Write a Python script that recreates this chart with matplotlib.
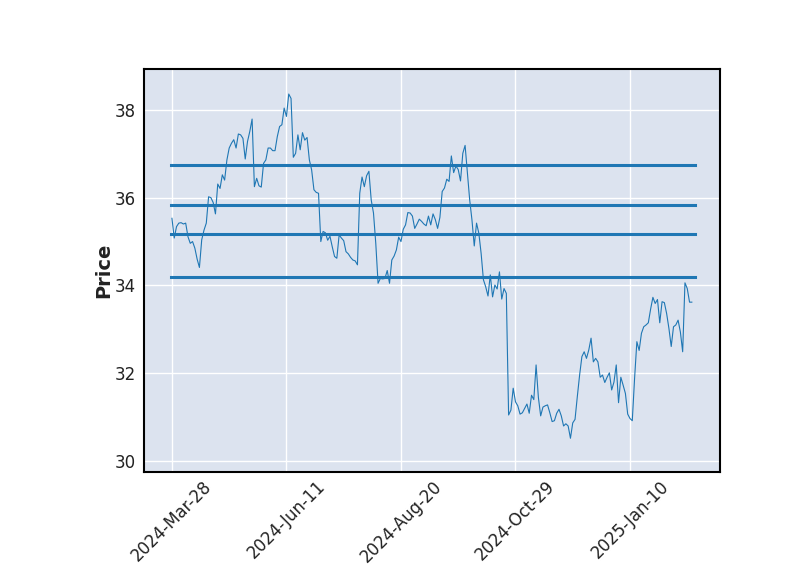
import matplotlib
matplotlib.use("Agg")
import matplotlib.pyplot as plt
import numpy as np

prices = [
    35.53, 35.08, 35.34, 35.42, 35.43, 35.40, 35.42, 35.11, 34.96, 35.00,
    34.85, 34.60, 34.41, 35.04, 35.26, 35.42, 36.02, 36.00, 35.89, 35.63,
    36.31, 36.21, 36.52, 36.40, 36.86, 37.13, 37.24, 37.32, 37.13, 37.45,
    37.43, 37.35, 36.88, 37.28, 37.51, 37.79, 36.25, 36.44, 36.27, 36.24,
    36.78, 36.86, 37.13, 37.13, 37.07, 37.07, 37.39, 37.62, 37.66, 38.04,
    37.85, 38.36, 38.26, 36.92, 37.01, 37.43, 37.09, 37.48, 37.31, 37.37,
    36.86, 36.63, 36.18, 36.12, 36.10, 35.00, 35.23, 35.20, 35.03, 35.12,
    34.88, 34.66, 34.62, 35.15, 35.08, 35.02, 34.77, 34.72, 34.64, 34.58,
    34.56, 34.47, 36.10, 36.47, 36.25, 36.50, 36.60, 35.95, 35.65, 34.96,
    34.05, 34.16, 34.15, 34.16, 34.34, 34.05, 34.58, 34.67, 34.81, 35.10,
    35.00, 35.28, 35.38, 35.66, 35.65, 35.58, 35.30, 35.40, 35.51, 35.46,
    35.40, 35.36, 35.58, 35.38, 35.63, 35.50, 35.30, 35.55, 36.14, 36.22,
    36.42, 36.37, 36.95, 36.57, 36.72, 36.64, 36.38, 37.01, 37.19, 36.56,
    35.95, 35.49, 34.90, 35.42, 35.19, 34.73, 34.13, 33.97, 33.76, 34.24,
    33.74, 34.01, 33.92, 34.31, 33.69, 33.93, 33.82, 31.05, 31.16, 31.66,
    31.35, 31.26, 31.07, 31.10, 31.20, 31.30, 31.09, 31.50, 31.40, 32.19,
    31.45, 31.03, 31.23, 31.26, 31.28, 31.10, 30.90, 30.92, 31.09, 31.18,
    31.03, 30.80, 30.85, 30.80, 30.52, 30.87, 30.95, 31.47, 31.96, 32.38,
    32.49, 32.34, 32.53, 32.80, 32.26, 32.34, 32.26, 31.91, 31.96, 31.79,
    31.91, 32.01, 31.62, 31.80, 32.19, 31.33, 31.91, 31.73, 31.54, 31.07,
    30.97, 30.92, 31.88, 32.72, 32.52, 32.91, 33.06, 33.10, 33.15, 33.46,
    33.73, 33.59, 33.68, 33.15, 33.63, 33.61, 33.36, 33.02, 32.61, 33.06,
    33.10, 33.21, 32.94, 32.49, 34.06, 33.93, 33.62, 33.62,
]

hline_levels = [36.74, 35.83, 35.17, 34.19]

tick_positions = [0, 50, 100, 150, 200]
tick_labels = ["2024-Mar-28", "2024-Jun-11", "2024-Aug-20", "2024-Oct-29", "2025-Jan-10"]
ytick_values = [30, 32, 34, 36, 38]

fig = plt.figure(figsize=(8, 5.75), dpi=100)
ax = fig.add_axes([0.18, 0.179, 0.72, 0.701])
ax.set_facecolor("#DCE3EF")
ax.grid(True, color="white", linewidth=1.0)
ax.set_axisbelow(True)

x = np.arange(len(prices))
ax.plot(x, prices, color="#1f77b4", linewidth=0.8)

ax.hlines(hline_levels, -0.5, len(prices) + 0.5, colors="#1f77b4", linewidth=2.2,
          capstyle="projecting")

ax.set_xlim(-12.2, 239.3)
ax.set_ylim(29.75, 38.93)
ax.set_xticks(tick_positions)
ax.set_xticklabels(tick_labels, rotation=45, fontsize=12)
ax.set_yticks(ytick_values)
ax.set_yticklabels([str(v) for v in ytick_values], fontsize=12)
ax.tick_params(axis="x", length=0, pad=4, colors="#222222")
ax.tick_params(axis="y", length=0, pad=6, colors="#222222")
for s in ax.spines.values():
    s.set_color("black")
    s.set_linewidth(1.5)
ax.set_ylabel("Price", fontsize=14, fontweight="bold", color="#222222", labelpad=1)

fig.savefig("out.png", dpi=100)
